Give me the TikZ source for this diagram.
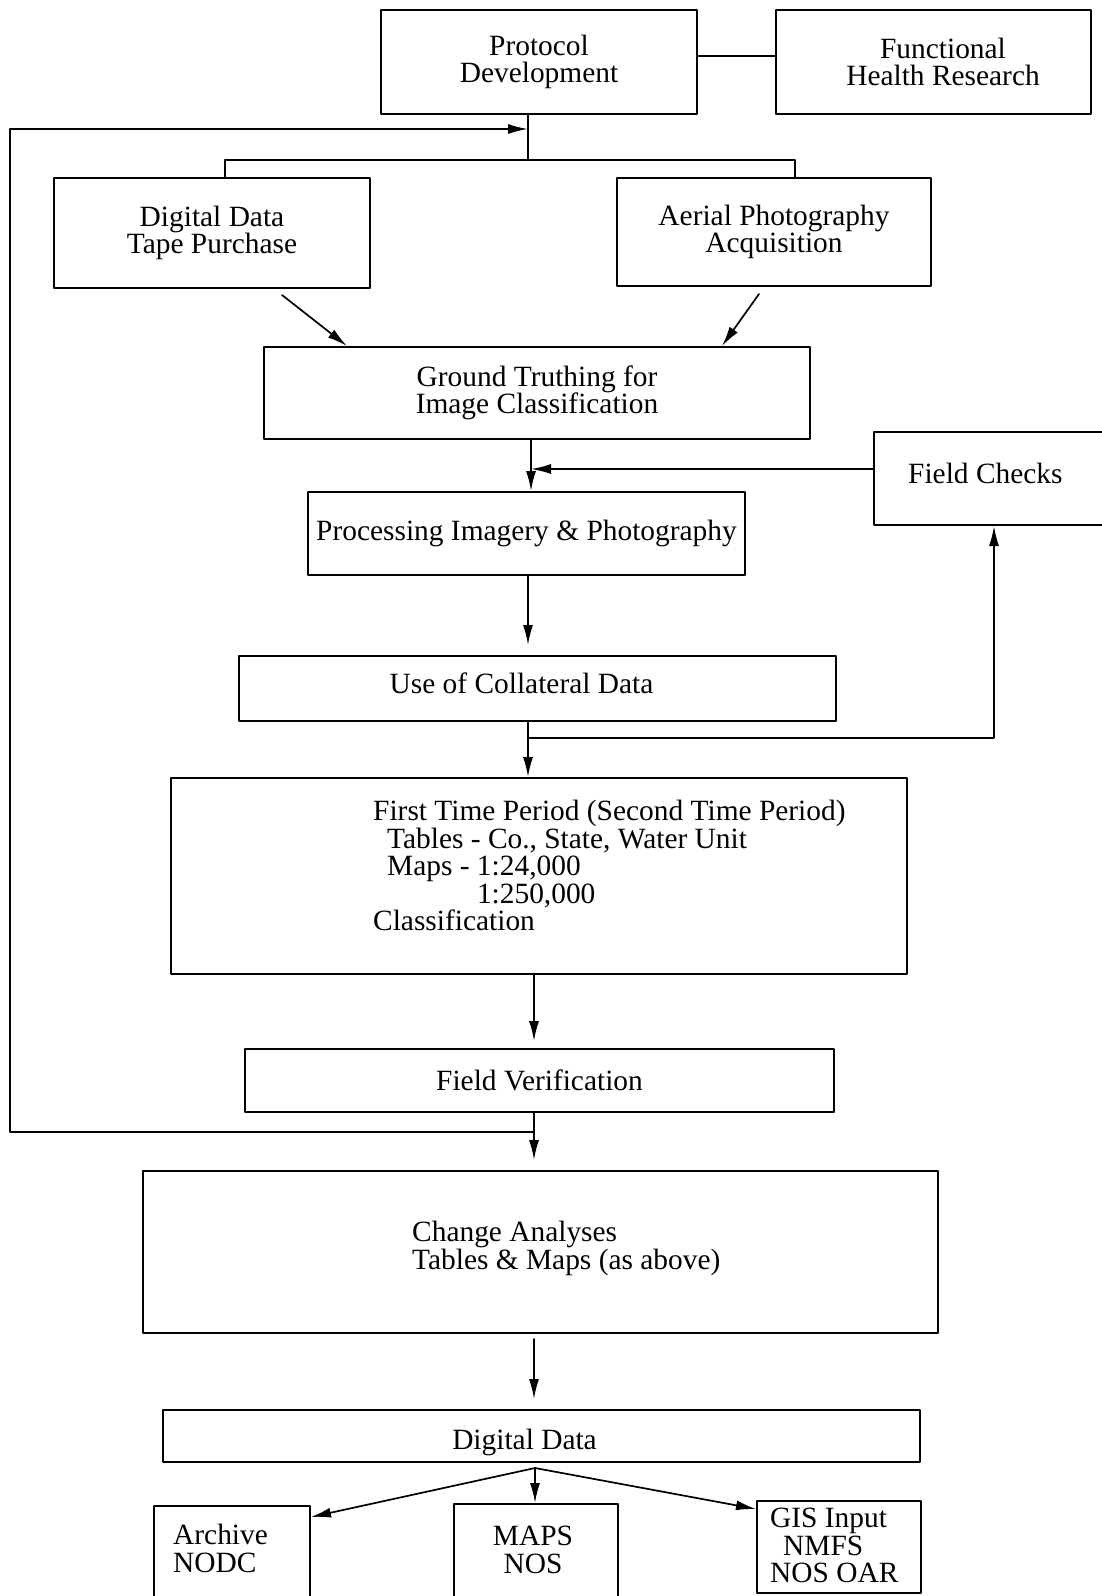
\documentclass[tikz,border=0pt]{standalone}
\usepackage{fontspec}
\setmainfont{Liberation Serif}
\usetikzlibrary{arrows.meta,calc}
\tikzset{>={Latex[length=20pt,width=10pt]}}

\begin{document}
\begin{tikzpicture}[x=1pt, y=-1pt,
                    line cap=round, line join=round,
                    every node/.style={font=\fontsize{29.4}{27.5}\selectfont},
                    box/.style={draw, line width=2pt, inner sep=0pt, align=center},
                    txt/.style={inner sep=0pt, align=left},
                    link/.style={line width=1.7pt},
                    flow/.style={link,->}]
  \useasboundingbox (0,0) rectangle (1102,1596);
  \clip (0,0) rectangle (1102,1596);

% Caixas do topo
  \node[box, minimum width=316pt, minimum height=104pt] (proto)  at (539,62)    {Protocol\\Development};
  \node[box, minimum width=315pt, minimum height=104pt] (funct)  at (933.5,62)  {};
  \node[txt, align=center] (functTxt) at (943,62) {Functional\\Health Research};
  \node[box, minimum width=316pt, minimum height=110pt] (tape)   at (212,233)   {Digital Data\\Tape Purchase};
  \node[box, minimum width=314pt, minimum height=108pt] (aerial) at (774,232)   {Aerial Photography\\Acquisition};
  \node[box, minimum width=546pt, minimum height=92pt]  (gt)     at (537,393)   {Ground Truthing for\\Image Classification};
  \node[box, minimum width=268pt, minimum height=93pt]  (checks) at (1008,478.5) {};
  \node[txt, anchor=base west] (checksTxt) at (908,483) {Field Checks};

% Caixas do meio
  \node[box, minimum width=437pt, minimum height=83pt]  (proc)   at (526.5,533.5) {Processing Imagery \& Photography};
  \node[box, minimum width=597pt, minimum height=65pt]  (collat) at (537.5,688.5) {};
  \node[txt] (collatTxt) at (521.5,683.5) {Use of Collateral Data};
  \node[box, minimum width=736pt, minimum height=196pt] (first)  at (539,876)   {};
  \node[txt, anchor=north west] (firstTxt) at (373,800) {First Time Period (Second Time Period)\\
    \hspace*{14pt}Tables - Co., State, Water Unit\\
    \hspace*{14pt}Maps - 1:24,000\\
    \hspace*{14pt}\phantom{Maps - }1:250,000\\
    Classification};
  \node[box, minimum width=589pt, minimum height=63pt]  (verif)  at (539.5,1080.5) {Field Verification};
  \node[box, minimum width=795pt, minimum height=162pt] (change) at (540.5,1252) {};
  \node[txt, anchor=north west] (changeTxt) at (412,1221) {Change Analyses\\Tables \& Maps (as above)};

% Caixas de baixo
  \node[box, minimum width=757pt, minimum height=52pt]  (digital) at (541.5,1436) {};
  \node[txt] (digitalTxt) at (524.5,1442) {Digital Data};
  \node[box, minimum width=156pt, minimum height=124pt] (archive) at (232,1568)  {};
  \node[txt, anchor=north west] (archiveTxt) at (173,1524) {Archive\\NODC};
  \node[box, minimum width=164pt, minimum height=126pt] (maps)    at (536,1567)  {};
  \node[txt, anchor=north, align=center] (mapsTxt) at (533,1526) {MAPS\\NOS};
  \node[box, minimum width=164pt, minimum height=92pt]  (gis)     at (839,1547)  {};
  \node[txt, anchor=north west] (gisTxt) at (770,1508) {GIS Input\\\hspace*{13pt}NMFS\\NOS OAR};

% Pontos de junção
  \coordinate (back)  at (528,129);
  \coordinate (fork)  at (528,160);
  \coordinate (forkL) at (225,160);
  \coordinate (forkR) at (795,160);
  \coordinate (ret)   at (531,469);
  \coordinate (chk)   at (528,738);
  \coordinate (chkR)  at (994,738);
  \coordinate (loopA) at (534,1132);
  \coordinate (loopL) at (10,1132);
  \coordinate (dd)    at (535,1468);

% Ligações do topo
  \draw[link] ([yshift=6pt]proto.east) -- ([yshift=6pt]proto.east -| funct.west);
  \draw[link] (proto.south -| fork) -- (fork);
  \draw[link] (tape.north -| forkL) |- (forkR) -- (aerial.north -| forkR);
  \draw[flow] ($(tape.south)+(70,6)$) -- ($(gt.north)+(-190,0)$);
  \draw[flow] ($(aerial.south)+(-15,7)$) -- ($(gt.north)+(185,0)$);

% Ligações do meio
  \draw[flow] (gt.south -| ret) -- (proc.north -| ret);
  \draw[flow] (checks.west |- ret) -- (ret);
  \draw[flow, shorten >=10pt] (proc.south -| back) -- (collat.north -| back);
  \draw[flow] (collat.south -| chk) -- (first.north -| chk);
  \draw[flow] (chk) -- (chkR) -- (checks.south -| chkR);
  \draw[flow, shorten >=7pt] (first.south -| loopA) -- (verif.north -| loopA);

% Retorno para o topo
  \draw[flow] (loopA) -- (loopL) |- (back);
  \draw[flow, shorten >=10pt] (verif.south -| loopA) -- (change.north -| loopA);

% Ligações de baixo
  \draw[flow, shorten >=10pt, shorten <=5pt] (change.south -| loopA) -- (digital.north -| loopA);
  \draw[flow] (dd) -- ($(archive.north east)+(0,12)$);
  \draw[flow] (dd) -- (maps.north -| dd);
  \draw[flow] (dd) -- ($(gis.north west)+(0,9)$);
\end{tikzpicture}
\end{document}
